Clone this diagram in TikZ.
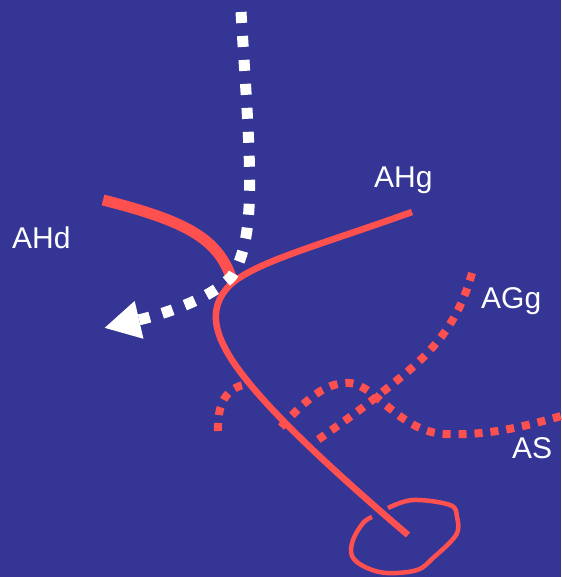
\documentclass[tikz,border=0pt]{standalone}
\usepackage{fontspec}
\setmainfont{Liberation Sans}
\usetikzlibrary{arrows.meta}
\definecolor{slide blue}{HTML}{353596}
\definecolor{nerve red}{HTML}{FF5050}
\tikzset{
  thickvessel/.style={draw=nerve red, line width=11pt},
  thinvessel/.style={draw=nerve red, line width=6.5pt},
  dotvessel/.style={draw=nerve red, line width=8pt, dash pattern=on 8pt off 8pt},
  flow/.style={draw=white, line width=11pt, dash pattern=on 11pt off 13pt,
    -{Triangle[length=36pt,width=36pt]}},
  vlabel/.style={text=white, font=\fontsize{30pt}{31pt}\selectfont, inner sep=0pt, anchor=base west}
}
\begin{document}
\begin{tikzpicture}[x=1pt,y=-1pt]
    \fill[slide blue] (0,0) rectangle (561,577);
    \useasboundingbox (0,0) rectangle (561,577);
    % labels
    \node[vlabel] (ahd) at (12,248) {AHd};
    \node[vlabel] (ahg) at (374,188) {AHg};
    \node[vlabel] (agg) at (481,308) {AGg};
    \node[vlabel] (as) at (512,458) {AS};
    % dotted branches
    \draw[dotvessel] (218,431) .. controls (217,396) and (232,387) .. (247,384);
    \draw[dotvessel] (281,427) .. controls (310,395) and (328,382) .. (350,383)
        .. controls (375,385) and (400,432) .. (445,434)
        .. controls (490,436) and (530,425) .. (561,416);
    \draw[dotvessel] (472,273) .. controls (455,335) and (420,362) .. (385,390)
        .. controls (360,410) .. (312,444);
    % main vessels
    \draw[thickvessel] (103,200) .. controls (190,222) and (220,240) .. (233,283);
    \draw[thinvessel] (412,212) .. controls (320,245) and (255,262) .. (230,285)
        .. controls (205,310) and (215,340) .. (245,378)
        .. controls (270,410) and (320,460) .. (408,535);
    \draw[thinvessel, line width=4.5pt] plot[smooth, tension=0.6] coordinates {(388,508) (413,500) (450,505) (457,517) (456,535) (433,558) (417,570) (387,573) (365,567) (352,556) (353,540) (363,523) (372,517)};
    % flow
    \draw[flow] (241,12) .. controls (250,160) and (258,235) .. (232,276)
        .. controls (210,300) and (160,315) .. (104,328);
\end{tikzpicture}
\end{document}
